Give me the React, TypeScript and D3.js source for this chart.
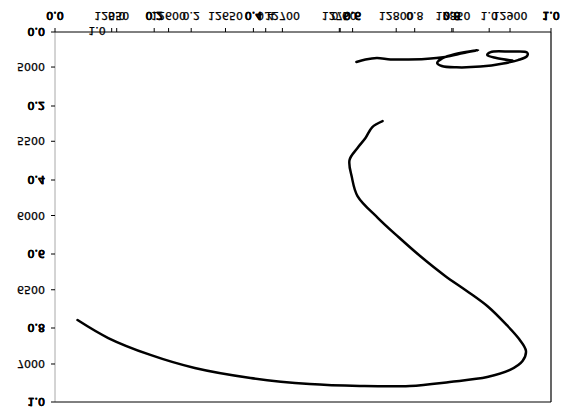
import React from "react";
import * as d3 from "d3";

// ---- data ----
const primaryTicks = [0, 0.2, 0.4, 0.6, 0.8, 1.0];
const twinTicks = [0, 0.2, 0.4, 0.6, 0.8, 1.0];
const eastingTicks = [12550, 12600, 12650, 12700, 12750, 12800, 12850, 12900];
const depthTicks = [5000, 5500, 6000, 6500, 7000];

const lowerTrackX = [12520, 12547, 12584, 12623, 12672, 12724, 12768, 12812, 12847, 12880, 12900, 12911, 12914, 12908, 12897, 12881, 12862, 12843, 12821, 12802, 12784, 12766, 12761, 12759, 12766, 12773, 12779, 12788];
const lowerTrackY = [6704, 6825, 6939, 7027, 7094, 7135, 7148, 7148, 7121, 7088, 7040, 6980, 6912, 6832, 6737, 6616, 6508, 6407, 6273, 6145, 6017, 5869, 5741, 5626, 5545, 5478, 5404, 5364];

const upperTrackX = [12765, 12773, 12783, 12795, 12808, 12825, 12843, 12859, 12872, 12861, 12849, 12840, 12836, 12840, 12853, 12874, 12894, 12907, 12915, 12915, 12900, 12883, 12880, 12888, 12902];
const upperTrackY = [4966, 4949, 4939, 4949, 4949, 4946, 4933, 4906, 4886, 4899, 4919, 4943, 4973, 4993, 5002, 4997, 4976, 4953, 4926, 4902, 4896, 4899, 4919, 4939, 4956];

const W = 572;
const H = 418;
const L = 55, R = 551, T = 32, B = 402;
const FS = 11;
const FONT = "DejaVu Sans";

const xPrim = d3.scaleLinear().domain([0, 1]).range([L, R]);
const xTwin = d3.scaleLinear().domain([0, 1]).range([116.7, 489.2]);
const xSec = d3.scaleLinear().domain([12500.2, 12936]).range([L, R]);
const yPrim = d3.scaleLinear().domain([0, 1]).range([T, B]);
const ySec = d3.scaleLinear().domain([4764, 7256]).range([T, B]);

const f1 = d3.format(".1f");
const fd = d3.format("d");

// text that is mirrored vertically; glyphs hang down from yTop
function FText({ x, yTop, text, anchor = "middle", clip, weight = 0.25 }: any) {
  return (
    <text
      transform={`translate(${x},${yTop}) scale(1,-1)`}
      textAnchor={anchor}
      fontSize={FS}
      fontFamily={FONT}
      fill="#000"
      stroke="#000"
      strokeWidth={weight}
      clipPath={clip}
    >
      {text}
    </text>
  );
}

export default function App() {
  const line = d3
    .line<[number, number]>()
    .x((d) => xSec(d[0]))
    .y((d) => ySec(d[1]))
    .curve(d3.curveCatmullRom.alpha(0.5));

  const lower = lowerTrackX.map((v, i) => [v, lowerTrackY[i]] as [number, number]);
  const upper = upperTrackX.map((v, i) => [v, upperTrackY[i]] as [number, number]);

  const digitH = FS * 0.729;
  const topLabelY = 11.5;
  const tickLen = 4;

  return (
    <svg
      width={W}
      height={H}
      style={{ position: "absolute", left: 0, top: 0, background: "#fff" }}
    >
      <defs>
        <clipPath id="bottomClip">
          <rect x={0} y={B + 1} width={W} height={H - B} />
        </clipPath>
      </defs>
      <rect x={0} y={0} width={W} height={H} fill="#fff" />

      {/* curves */}
      <path d={line(lower) || ""} fill="none" stroke="#000" strokeWidth={2.5} strokeLinejoin="round" strokeLinecap="round" />
      <path d={line(upper) || ""} fill="none" stroke="#000" strokeWidth={2.5} strokeLinejoin="round" strokeLinecap="round" />

      {/* spines */}
      <line x1={L} x2={L} y1={T} y2={B} stroke="#a8a8a8" strokeWidth={1} />
      <line x1={L} x2={R} y1={T} y2={T} stroke="#000" strokeWidth={1} />
      <line x1={L} x2={R} y1={B} y2={B} stroke="#000" strokeWidth={1} />
      <line x1={R} x2={R} y1={T} y2={B} stroke="#000" strokeWidth={1.2} />

      {/* top ticks */}
      {primaryTicks.map((t) => (
        <line key={"pt" + t} x1={xPrim(t)} x2={xPrim(t)} y1={T - tickLen} y2={T} stroke="#000" />
      ))}
      {twinTicks.map((t) => (
        <line key={"tt" + t} x1={xTwin(t)} x2={xTwin(t)} y1={T - tickLen} y2={T} stroke="#000" />
      ))}
      {eastingTicks.map((t) => (
        <line key={"et" + t} x1={xSec(t)} x2={xSec(t)} y1={T - tickLen} y2={T} stroke="#000" />
      ))}

      {/* left ticks */}
      {primaryTicks.map((t) => (
        <line key={"pl" + t} x1={L - tickLen} x2={L} y1={yPrim(t)} y2={yPrim(t)} stroke="#000" />
      ))}
      {depthTicks.map((t) => (
        <line key={"dl" + t} x1={L - tickLen} x2={L} y1={ySec(t)} y2={ySec(t)} stroke="#000" />
      ))}

      {/* top labels */}
      {eastingTicks.map((t) => (
        <FText key={"el" + t} x={xSec(t)} yTop={topLabelY} text={fd(t)} />
      ))}
      {twinTicks.map((t) => (
        <FText key={"tl" + t} x={xTwin(t)} yTop={topLabelY} text={f1(t)} />
      ))}
      {[0, 1].map((k) =>
        primaryTicks.map((t) => (
          <FText key={"plb" + k + t} x={xPrim(t)} yTop={topLabelY} text={f1(t)} weight={0.5} />
        ))
      )}

      {/* left labels */}
      {[0, 1].map((k) =>
        primaryTicks.map((t) => (
          <FText key={"pll" + k + t} x={45} yTop={yPrim(t) - digitH / 2} text={f1(t)} anchor="end" weight={0.5} />
        ))
      )}
      {depthTicks.map((t) => (
        <FText key={"dll" + t} x={45} yTop={ySec(t) - digitH / 2} text={fd(t)} anchor="end" />
      ))}

      {/* stray labels of the hidden inner axes */}
      <FText x={97} yTop={26.5} text={f1(1)} />
      <FText x={97} yTop={B - 3.5} text={f1(0)} clip="url(#bottomClip)" />
    </svg>
  );
}
